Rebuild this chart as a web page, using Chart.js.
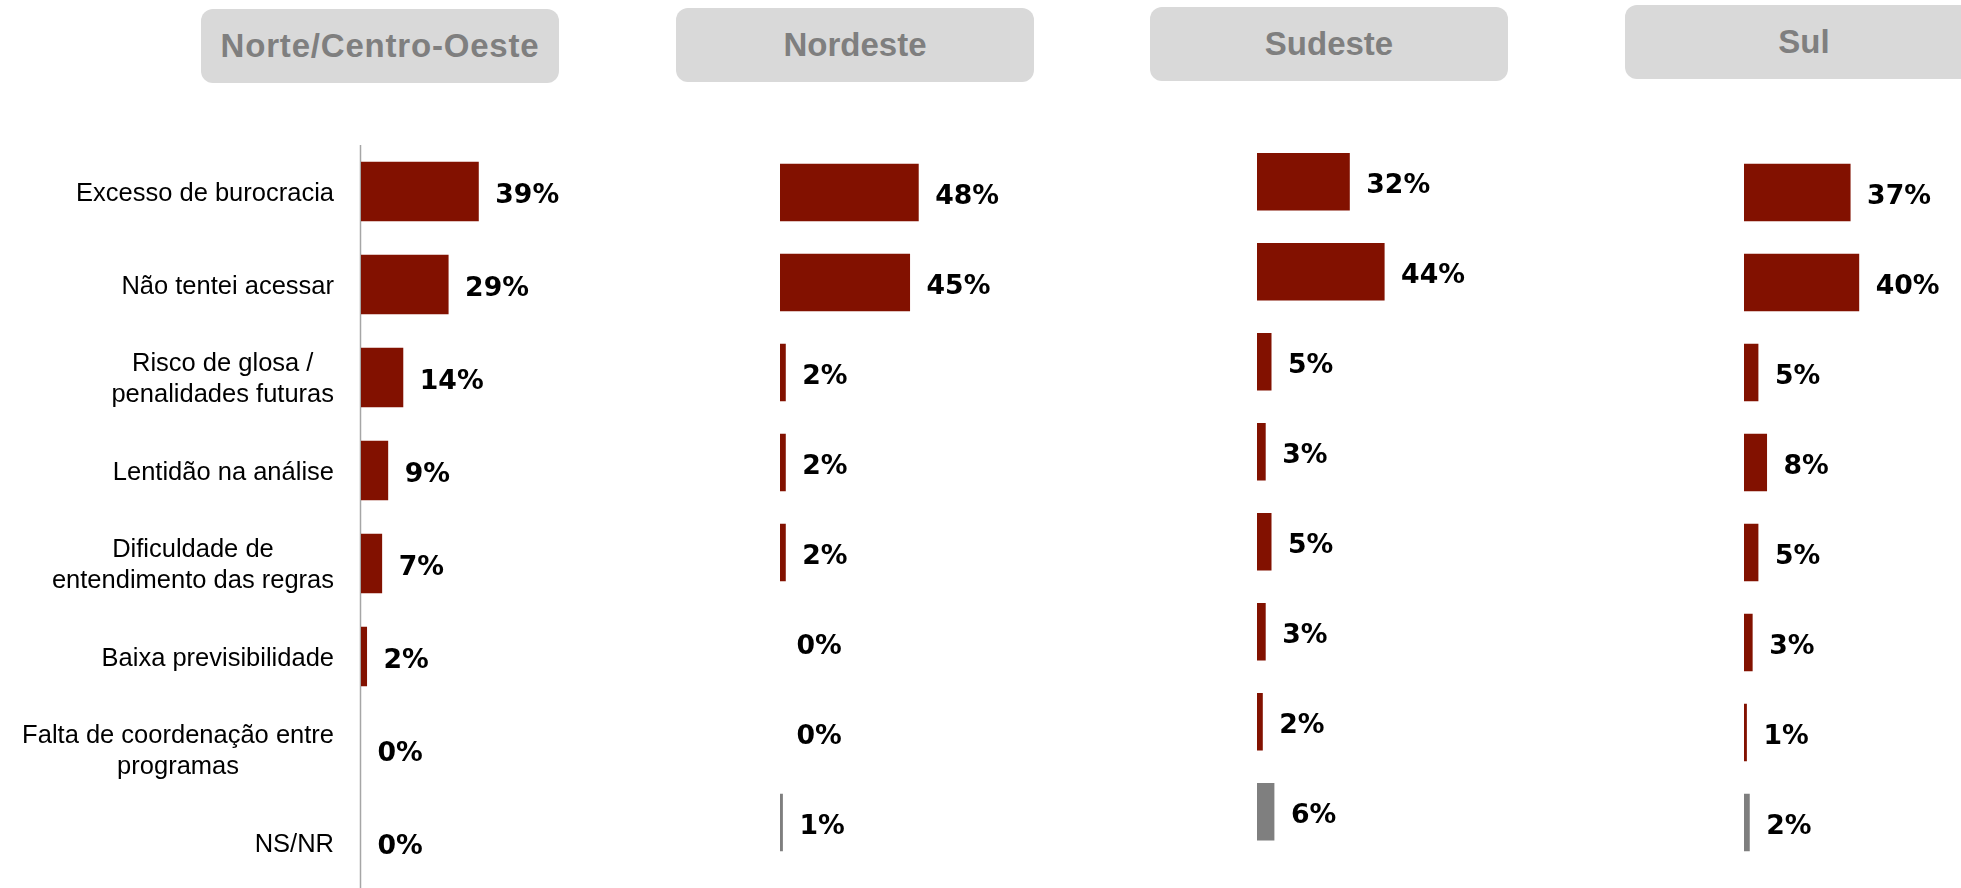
<!DOCTYPE html>
<html>
<head>
<meta charset="utf-8">
<script src="https://cdn.jsdelivr.net/npm/chart.js@4.4.1/dist/chart.umd.min.js"></script>
<style>
body { margin: 0; width: 1961px; height: 888px; overflow: hidden; background: #fff; position: relative; }
.box { position: absolute; height: 74px; width: 358px; background: #d9d9d9; border-radius: 12px; display: flex; align-items: center; justify-content: center; font: bold 33px "Liberation Sans", Arial, sans-serif; color: #7f7f7f; }
canvas { position: absolute; top: 0; }
</style>
</head>
<body>
<div class="box" style="left:201px;top:9px;letter-spacing:0.8px">Norte/Centro-Oeste</div>
<div class="box" style="left:676px;top:8px">Nordeste</div>
<div class="box" style="left:1150px;top:7px">Sudeste</div>
<div class="box" style="left:1625px;top:5px">Sul</div>

<canvas id="c1" width="640" height="890" style="left:0px"></canvas>
<canvas id="c2" width="420" height="890" style="left:660px"></canvas>
<canvas id="c3" width="420" height="890" style="left:1140px"></canvas>
<canvas id="c4" width="361" height="890" style="left:1600px"></canvas>

<script>
var categorias = [
    ['Excesso de burocracia'],
    ['Não tentei acessar'],
    ['Risco de glosa /', 'penalidades futuras'],
    ['Lentidão na análise'],
    ['Dificuldade de', 'entendimento das regras'],
    ['Baixa previsibilidade'],
    ['Falta de coordenação entre', 'programas'],
    ['NS/NR']
];
var norteCentroOeste = [39, 29, 14, 9, 7, 2, 0, 0];
var nordeste = [48, 45, 2, 2, 2, 0, 0, 1];
var sudeste = [32, 44, 5, 3, 5, 3, 2, 6];
var sul = [37, 40, 5, 8, 5, 3, 1, 2];

var corBarra = '#821100';
var corNsNr = '#7f7f7f';

// rótulos de valor no fim de cada barra
var rotulosPlugin = {
    id: 'rotulos',
    afterDatasetsDraw: function (chart, args, opts) {
        var ctx = chart.ctx;
        var dados = chart.data.datasets[0].data;
        ctx.save();
        ctx.font = opts.font;
        ctx.fillStyle = '#000';
        ctx.textBaseline = 'alphabetic';
        ctx.textAlign = 'left';
        chart.getDatasetMeta(0).data.forEach(function (bar, i) {
            ctx.fillText(dados[i] + '%', bar.x + opts.gap, bar.y + opts.shift);
        });
        ctx.restore();
    }
};

// eixo vertical e categorias (só no primeiro painel)
var categoriasPlugin = {
    id: 'categorias',
    beforeDatasetsDraw: function (chart, args, opts) {
        if (!opts.show) return;
        var ctx = chart.ctx, area = chart.chartArea;
        ctx.save();
        ctx.strokeStyle = '#a6a6a6';
        ctx.lineWidth = 1.5;
        ctx.beginPath();
        ctx.moveTo(area.left - 0.5, area.top);
        ctx.lineTo(area.left - 0.5, area.bottom);
        ctx.stroke();
        ctx.restore();
    },
    afterDraw: function (chart, args, opts) {
        if (!opts.show) return;
        var ctx = chart.ctx, area = chart.chartArea, escalaY = chart.scales.y;
        ctx.save();
        ctx.font = opts.font;
        ctx.fillStyle = '#000';
        ctx.textBaseline = 'alphabetic';
        ctx.textAlign = 'center';
        var direita = area.left - opts.gap;
        categorias.forEach(function (linhas, i) {
            var yc = escalaY.getPixelForValue(i);
            var largura = 0;
            linhas.forEach(function (l) { largura = Math.max(largura, ctx.measureText(l).width); });
            var x = direita - largura / 2;
            var y0 = yc - (linhas.length - 1) * opts.lineHeight / 2 + opts.shift;
            linhas.forEach(function (l, k) {
                ctx.fillText(l, x, y0 + k * opts.lineHeight);
            });
        });
        ctx.restore();
    }
};

function montarPainel(id, valores, cfg) {
    var canvas = document.getElementById(id);
    var esq = cfg.plotLeft - cfg.canvasLeft;
    var dir = canvas.width - esq - cfg.max * cfg.pxPorPct;
    var cores = valores.map(function (v, i) { return i === valores.length - 1 ? corNsNr : corBarra; });
    return new Chart(canvas.getContext('2d'), {
        type: 'bar',
        data: {
            labels: categorias.map(function (c) { return c.join(' '); }),
            datasets: [{
                data: valores,
                backgroundColor: cores,
                borderWidth: 0,
                barPercentage: 0.64,
                categoryPercentage: 1
            }]
        },
        options: {
            indexAxis: 'y',
            responsive: false,
            animation: false,
            layout: { padding: { left: esq, right: dir, top: cfg.top, bottom: canvas.height - cfg.bottom } },
            scales: {
                x: { display: false, min: 0, max: cfg.max },
                y: { display: false }
            },
            plugins: {
                legend: { display: false },
                tooltip: { enabled: false },
                rotulos: { font: 'bold 26.7px "DejaVu Sans", Verdana, sans-serif', gap: 16.5, shift: 11 },
                categorias: { show: !!cfg.categorias, font: '25.5px "Liberation Sans", Arial, sans-serif', gap: 27, lineHeight: 31, shift: 9.2 }
            }
        },
        plugins: [rotulosPlugin, categoriasPlugin]
    });
}

montarPainel('c1', norteCentroOeste, { canvasLeft: 0, plotLeft: 361, top: 145, bottom: 889, pxPorPct: 3.02, max: 80, categorias: true });
montarPainel('c2', nordeste, { canvasLeft: 660, plotLeft: 780, top: 147.5, bottom: 867.5, pxPorPct: 2.89, max: 100 });
montarPainel('c3', sudeste, { canvasLeft: 1140, plotLeft: 1257, top: 136.7, bottom: 856.7, pxPorPct: 2.9, max: 100 });
montarPainel('c4', sul, { canvasLeft: 1600, plotLeft: 1744, top: 147.5, bottom: 867.5, pxPorPct: 2.88, max: 60 });
</script>
</body>
</html>
